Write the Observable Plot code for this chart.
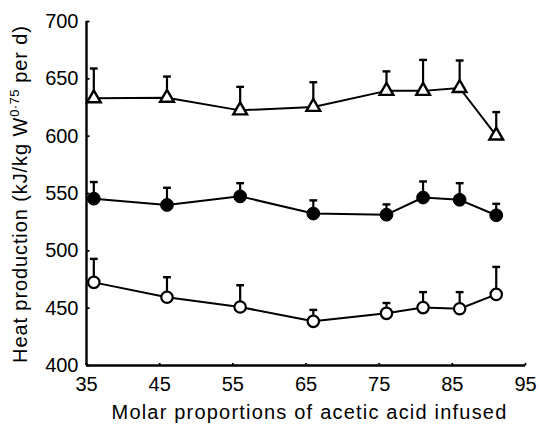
<!DOCTYPE html>
<html>
<head>
<meta charset="utf-8">
<script src="https://cdn.jsdelivr.net/npm/d3@7"></script>
<script src="https://cdn.jsdelivr.net/npm/@observablehq/plot@0.6"></script>
<style>
  html, body { margin: 0; padding: 0; background: #fff; }
  #chart svg { display: block; }
</style>
</head>
<body>
<div id="chart"></div>
<script>
// ---- data ----
const xValues = [36, 46, 56, 66, 76, 81, 86, 91];
const triangleMean  = [633, 633.5, 622.5, 625.5, 639.5, 639.5, 642, 600.5];
const triangleUpper = [659, 652, 643, 647, 656.5, 666.5, 666, 621];
const filledMean    = [545.5, 540, 547.5, 532.5, 531.5, 546.5, 544.5, 531];
const filledUpper   = [560, 555, 559, 544, 540.5, 560.5, 559, 541];
const openMean      = [472.5, 459.5, 451, 438.5, 445.5, 450.5, 449.5, 462];
const openUpper     = [493, 477, 470, 448.5, 454.5, 464, 464, 486];
const xTicks = [35, 45, 55, 65, 75, 85, 95];
const yTicks = [400, 450, 500, 550, 600, 650, 700];
const xTitle = "Molar proportions of acetic acid infused";
const yTitleParts = ["Heat production (kJ/kg W", "0·75", " per d)"];

const series = [
  {name: "triangle", mean: triangleMean, upper: triangleUpper},
  {name: "filled", mean: filledMean, upper: filledUpper},
  {name: "open", mean: openMean, upper: openUpper}
];
const rows = series.flatMap(s => xValues.map((x, i) => ({series: s.name, x, y: s.mean[i], hi: s.upper[i]})));
const of = name => rows.filter(d => d.series === name);

// custom symbols
const capSymbol = {draw(ctx, size) { const r = Math.sqrt(size / Math.PI); ctx.moveTo(-r, 0); ctx.lineTo(r, 0); }};
const tickRight = {draw(ctx, size) { const r = Math.sqrt(size / Math.PI); ctx.moveTo(0, 0); ctx.lineTo(r, 0); }};
const tickUp    = {draw(ctx, size) { const r = Math.sqrt(size / Math.PI); ctx.moveTo(0, 0); ctx.lineTo(0, -r); }};

const font = "'Liberation Sans', Arial, Helvetica, sans-serif";

const plot = Plot.plot({
  width: 541,
  height: 424,
  marginLeft: 86,
  marginRight: 16,
  marginTop: 21,
  marginBottom: 59,
  style: {fontFamily: font, fontSize: "20px", background: "#fff", color: "#000"},
  x: {domain: [35, 95]},
  y: {domain: [400, 700]},
  marks: [
    Plot.axisX({ticks: xTicks, tickSize: 0, tickPadding: 11, label: null, fontSize: 20, style: {letterSpacing: "0.8px"}}),
    Plot.axisY({ticks: yTicks, tickSize: 0, tickPadding: 8, label: null, fontSize: 20, style: {letterSpacing: "0.6px"}}),
    Plot.ruleX([35], {stroke: "#000", strokeWidth: 2.4}),
    Plot.ruleY([400], {stroke: "#000", strokeWidth: 2.4}),
    Plot.dot(yTicks, {x: () => 35, y: d => d, symbol: tickRight, r: 3, fill: "none", stroke: "#000", strokeWidth: 1.8}),
    Plot.dot(xTicks, {x: d => d, y: () => 400, symbol: tickUp, r: 2.6, fill: "none", stroke: "#000", strokeWidth: 1.8}),
    // connecting lines
    ...series.map(s => Plot.line(of(s.name), {x: "x", y: "y", stroke: "#000", strokeWidth: 2})),
    // error bars
    Plot.ruleX(rows, {x: "x", y1: "y", y2: "hi", stroke: "#000", strokeWidth: 2.2}),
    Plot.dot(rows, {x: "x", y: "hi", symbol: capSymbol, r: 3.9, fill: "none", stroke: "#000", strokeWidth: 2.4}),
    // markers
    Plot.dot(of("triangle"), {x: "x", y: "y", symbol: "triangle", r: 5.1, fill: "#fff", stroke: "#000", strokeWidth: 2.4}),
    Plot.dot(of("filled"), {x: "x", y: "y", symbol: "circle", r: 6.4, fill: "#000", stroke: "#000", strokeWidth: 1}),
    Plot.dot(of("open"), {x: "x", y: "y", symbol: "circle", r: 5.7, fill: "#fff", stroke: "#000", strokeWidth: 2.2})
  ]
});

const sx = plot.scale("x");
const svg = d3.select(plot);

// x title
svg.append("text")
  .attr("x", (sx.apply(35) + sx.apply(95)) / 2 + 4)
  .attr("y", 419)
  .attr("text-anchor", "middle")
  .style("font-family", font)
  .style("font-size", "20px")
  .style("letter-spacing", "1.2px")
  .attr("fill", "#000")
  .text(xTitle);

// y title with superscript
const yt = svg.append("text")
  .attr("transform", "translate(27,194) rotate(-90)")
  .attr("text-anchor", "middle")
  .style("font-family", font)
  .style("font-size", "20px")
  .style("letter-spacing", "0.9px")
  .attr("fill", "#000");
yt.append("tspan").text(yTitleParts[0]);
yt.append("tspan").attr("dy", -8).style("font-size", "13px").style("letter-spacing", "0.4px").text(yTitleParts[1]);
yt.append("tspan").attr("dy", 8).text(yTitleParts[2]);

document.getElementById("chart").appendChild(plot);
</script>
</body>
</html>
